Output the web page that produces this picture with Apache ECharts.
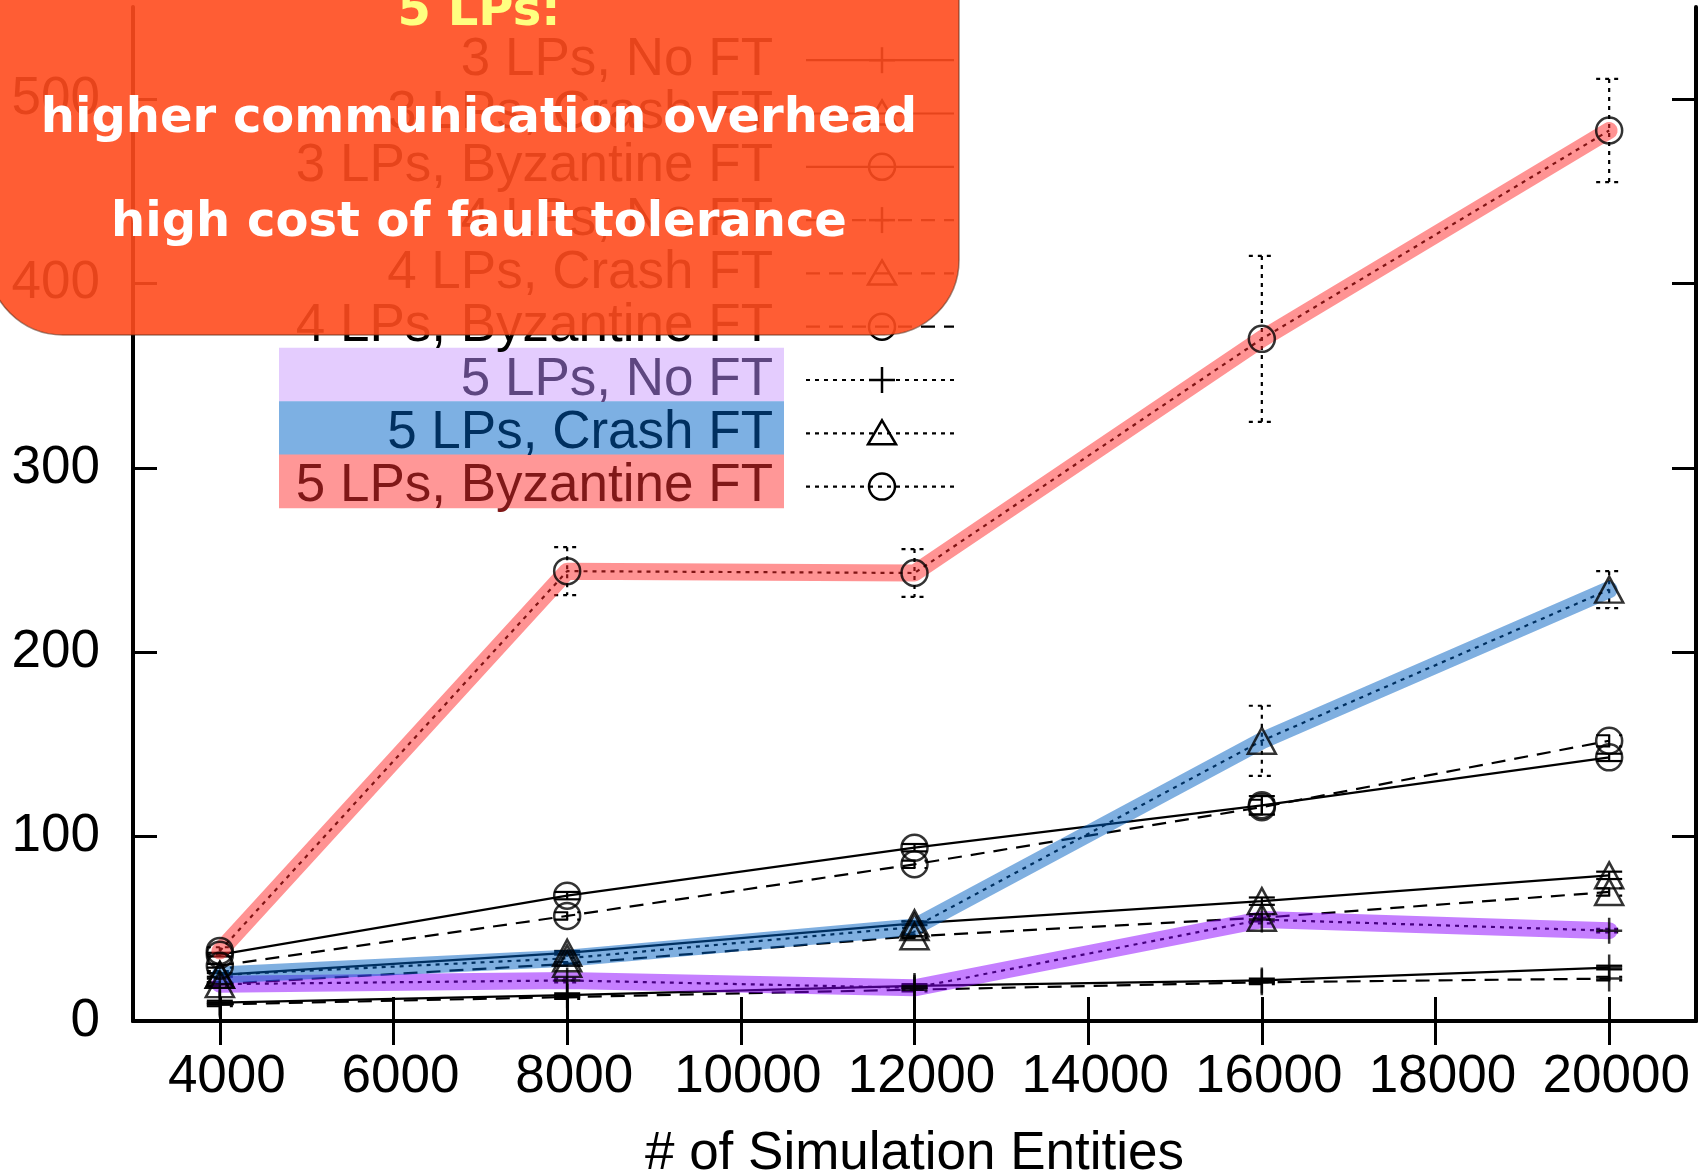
<!DOCTYPE html>
<html>
<head>
<meta charset="utf-8">
<script src="https://cdn.jsdelivr.net/npm/echarts@6/dist/echarts.min.js"></script>
<style>
html,body{margin:0;padding:0;background:#fff;}
#chart{width:1707px;height:1175px;}
</style>
</head>
<body>
<div id="chart"></div>
<script>
// ---- data ----
const entities = [4000, 8000, 12000, 16000, 20000];
const xTicks = [4000, 6000, 8000, 10000, 12000, 14000, 16000, 18000, 20000];
const yTicks = [0, 100, 200, 300, 400, 500];

const seriesNames = [
  '3 LPs, No FT', '3 LPs, Crash FT', '3 LPs, Byzantine FT',
  '4 LPs, No FT', '4 LPs, Crash FT', '4 LPs, Byzantine FT',
  '5 LPs, No FT', '5 LPs, Crash FT', '5 LPs, Byzantine FT'
];

const lp3NoFT  = [10, 14, 19, 22, 29];
const lp3Crash = [25, 37, 53, 65, 79];
const lp3Byz   = [36, 68, 94, 117, 143];
const lp4NoFT  = [9, 13, 17, 21, 23];
const lp4Crash = [20, 31, 46, 56, 70];
const lp4Byz   = [30, 57, 85, 116, 152];
const lp5NoFT  = [20, 22, 18, 55, 49];
const lp5Crash = [25, 34, 51, 152, 234];
const lp5Byz   = [38, 244, 243, 370, 483];

const err3NoFT  = [1, 1, 1, 1, 1];
const err3Crash = [1, 1, 1, 2, 2];
const err3Byz   = [1, 2, 2, 5, 2];
const err4NoFT  = [1, 1, 1, 1, 1];
const err4Crash = [1, 1, 1, 2, 2];
const err4Byz   = [1, 2, 2, 4, 3];
const err5NoFT  = [1, 1, 1, 2, 1];
const err5Crash = [2, 3, 3, 19, 10];
const err5Byz   = [2, 13, 13, 45, 28];

const overlayLines = ['5 LPs:', 'higher communication overhead', 'high cost of fault tolerance'];

// ---- styles ----
const values = [lp3NoFT, lp3Crash, lp3Byz, lp4NoFT, lp4Crash, lp4Byz, lp5NoFT, lp5Crash, lp5Byz];
const errors = [err3NoFT, err3Crash, err3Byz, err4NoFT, err4Crash, err4Byz, err5NoFT, err5Crash, err5Byz];
const DASH = [14, 9];
const DOT = [4, 5];
const dashes = ['solid', 'solid', 'solid', DASH, DASH, DASH, DOT, DOT, DOT];
const canvasDash = [null, null, null, DASH, DASH, DASH, DOT, DOT, DOT];
const PLUS = 'path://M0,13L26,13M13,0L13,26';
const markers = [PLUS, 'triangle', 'circle', PLUS, 'triangle', 'circle', PLUS, 'triangle', 'circle'];
const markerSize = [26, [28, 26], 26, 26, [28, 26], 26, 26, [28, 26], 26];
const bandColors = {6: 'rgba(140,0,255,0.5)', 7: 'rgba(0,95,193,0.5)', 8: 'rgba(255,40,40,0.5)'};

const FONT = 'Liberation Sans';
const FS = 53;

const series = [];
// thin lines
values.forEach((vals, i) => {
  series.push({
    name: seriesNames[i], type: 'line', z: 2,
    data: entities.map((x, k) => [x, vals[k]]),
    symbol: 'none',
    lineStyle: {color: '#000', width: 2.2, type: dashes[i]},
    silent: true
  });
});
// error bars
values.forEach((vals, i) => {
  series.push({
    type: 'custom', z: 3, silent: true,
    data: entities.map((x, k) => [x, vals[k], errors[i][k]]),
    renderItem: function (params, api) {
      const x = api.value(0), y = api.value(1), e = api.value(2);
      const top = api.coord([x, y + e]);
      const bot = api.coord([x, y - e]);
      const hw = 13;
      const st = {stroke: '#000', lineWidth: 2.2, lineDash: canvasDash[i]};
      return {type: 'group', children: [
        {type: 'line', shape: {x1: top[0], y1: top[1], x2: bot[0], y2: bot[1]}, style: st},
        {type: 'line', shape: {x1: top[0] - hw, y1: top[1], x2: top[0] + hw, y2: top[1]}, style: st},
        {type: 'line', shape: {x1: bot[0] - hw, y1: bot[1], x2: bot[0] + hw, y2: bot[1]}, style: st}
      ]};
    }
  });
});
// highlight bands for 5 LPs
[6, 7, 8].forEach(i => {
  series.push({
    type: 'line', z: 4, silent: true,
    data: entities.map((x, k) => [x, values[i][k]]),
    symbol: 'none',
    lineStyle: {color: bandColors[i], width: 17, cap: 'round', join: 'round'}
  });
});
// markers
values.forEach((vals, i) => {
  series.push({
    type: 'scatter', z: 5, silent: true,
    data: entities.map((x, k) => [x, vals[k]]),
    symbol: markers[i], symbolSize: markerSize[i],
    itemStyle: {color: 'rgba(0,0,0,0)', borderColor: '#000', borderWidth: 2.5}
  });
});

// ---- legend (gnuplot style, drawn as graphics) ----
const graphic = [];
const rowY0 = 60.2, rowStep = 53.3;
const textRight = 773, sx1 = 806, sx2 = 954, mx = 882;
const hlBg = {6: '#e4ccfe', 7: '#7db0e3', 8: '#ff9797'};
const hlText = {6: '#5e4680', 7: '#003060', 8: '#801818'};
seriesNames.forEach((name, i) => {
  const y = rowY0 + i * rowStep;
  if (hlBg[i]) {
    graphic.push({type: 'rect', z: 50, shape: {x: 279, y: y - 5.5 - rowStep / 2, width: 505, height: rowStep + 0.5},
      style: {fill: hlBg[i]}});
  }
  graphic.push({type: 'text', z: 51, style: {text: name, x: textRight, y: y, textAlign: 'right',
    textVerticalAlign: 'middle', font: FS + 'px "' + FONT + '"', fill: hlText[i] || '#000'}});
  graphic.push({type: 'line', z: 51, shape: {x1: sx1, y1: y, x2: sx2, y2: y},
    style: {stroke: '#000', lineWidth: 2.2, lineDash: canvasDash[i]}});
  const mk = i % 3;
  if (mk === 0) {
    graphic.push({type: 'line', z: 51, shape: {x1: mx - 13, y1: y, x2: mx + 13, y2: y}, style: {stroke: '#000', lineWidth: 2.5}});
    graphic.push({type: 'line', z: 51, shape: {x1: mx, y1: y - 13, x2: mx, y2: y + 13}, style: {stroke: '#000', lineWidth: 2.5}});
  } else if (mk === 1) {
    graphic.push({type: 'polygon', z: 51, shape: {points: [[mx, y - 13], [mx + 14, y + 11], [mx - 14, y + 11]]},
      style: {fill: 'none', stroke: '#000', lineWidth: 2.5}});
  } else {
    graphic.push({type: 'circle', z: 51, shape: {cx: mx, cy: y, r: 13},
      style: {fill: 'none', stroke: '#000', lineWidth: 2.5}});
  }
});

// ---- orange annotation overlay ----
graphic.push({type: 'rect', z: 100, shape: {x: -12, y: -90, width: 971, height: 425, r: 75},
  style: {fill: 'rgba(255,75,30,0.9)', stroke: 'rgba(90,40,20,0.55)', lineWidth: 1.5}});
const ovY = [13, 119.5, 224];
const ovColor = ['#ffff80', '#ffffff', '#ffffff'];
overlayLines.forEach((t, k) => {
  graphic.push({type: 'text', z: 101, style: {text: t, x: 479, y: ovY[k], textAlign: 'center',
    textVerticalAlign: 'middle', font: 'bold 48px "DejaVu Sans"', fill: ovColor[k]}});
});

// ---- axes ----
const axisLine = {show: true, lineStyle: {color: '#000', width: 4}};
const tickStyle = {show: true, inside: true, length: 24, lineStyle: {color: '#000', width: 3}};
const labelStyle = {fontFamily: FONT, fontSize: FS, color: '#000'};

const option = {
  animation: false,
  backgroundColor: '#fff',
  grid: {left: 133, right: 11, top: 7, bottom: 154, outerBoundsMode: 'none', containLabel: false},
  xAxis: [
    {type: 'value', position: 'bottom', min: 3000, max: 21000,
     name: '# of Simulation Entities', nameLocation: 'middle', nameGap: 107,
     nameTextStyle: labelStyle,
     axisLine: axisLine, splitLine: {show: false},
     axisTick: Object.assign({customValues: xTicks}, tickStyle),
     axisLabel: Object.assign({customValues: xTicks, margin: 30, padding: [0, 0, 0, 14], formatter: v => String(v)}, labelStyle)},
    {type: 'value', position: 'top', min: 3000, max: 21000,
     axisLine: axisLine, splitLine: {show: false},
     axisTick: Object.assign({customValues: xTicks}, tickStyle),
     axisLabel: {show: false}}
  ],
  yAxis: [
    {type: 'value', position: 'left', min: 0, max: 550,
     axisLine: axisLine, splitLine: {show: false},
     axisTick: Object.assign({customValues: yTicks}, tickStyle),
     axisLabel: Object.assign({customValues: yTicks, margin: 33}, labelStyle)},
    {type: 'value', position: 'right', min: 0, max: 550,
     axisLine: axisLine, splitLine: {show: false},
     axisTick: Object.assign({customValues: yTicks}, tickStyle),
     axisLabel: {show: false}}
  ],
  series: series,
  graphic: graphic
};

const chart = echarts.init(document.getElementById('chart'), null, {renderer: 'canvas'});
chart.setOption(option);
</script>
</body>
</html>
